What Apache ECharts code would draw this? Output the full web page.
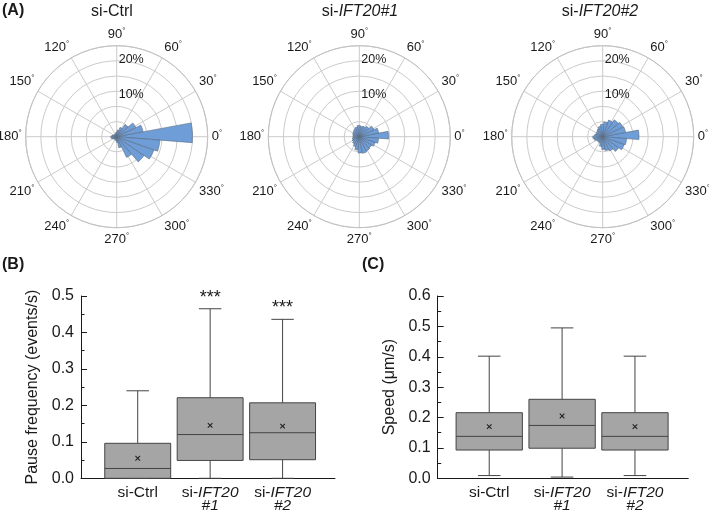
<!DOCTYPE html>
<html><head><meta charset="utf-8">
<script src="https://cdn.jsdelivr.net/npm/echarts@6/dist/echarts.min.js"></script>
<style>html,body{margin:0;padding:0;background:#fff}#c{width:709px;height:519px}</style>
</head><body><div id="c"></div>
<script>
// ---------- Data ----------
// Rose histogram bins (15° wide), bin centre angles in degrees
const roseBinCenters = ['3','18','33','48','63','78','93','108','123','138','153','168','183','198','213','228','243','258','273','288','303','318','333','348'];
// Percentage of tracks in each bin
const roseCtrl = [21.5, 7.6, 6.0, 4.2, 2.8, 1.9, 1.3, 1.0, 0.8, 0.8, 1.0, 1.4, 1.7, 1.5, 1.1, 0.9, 0.9, 1.1, 1.6, 3.2, 6.5, 9.4, 11.2, 12.3];
const roseIFT1 = [8.3, 5.6, 4.6, 3.6, 3.1, 3.0, 3.2, 2.8, 2.5, 2.2, 2.0, 1.8, 1.8, 2.0, 2.2, 2.5, 3.0, 3.8, 4.6, 4.8, 4.5, 4.2, 4.8, 5.5];
const roseIFT2 = [10.3, 6.6, 6.3, 5.8, 5.0, 4.2, 3.5, 3.0, 2.5, 2.2, 2.0, 2.3, 2.8, 2.5, 2.0, 1.8, 2.0, 2.8, 3.6, 4.0, 4.5, 5.5, 6.5, 6.8];
const roseTitles = ['si-Ctrl', 'si-{i|IFT20#1}', 'si-{i|IFT20#2}'];
const radiusTickLabels = [10, 20];          // labelled radius ticks (%)

// Box plots
const boxCategories = ['si-Ctrl', 'si-IFT20\n#1', 'si-IFT20\n#2'];
const pauseMin    = [0.000, 0.000, 0.000];
const pauseQ1     = [0.000, 0.049, 0.051];
const pauseMedian = [0.027, 0.120, 0.125];
const pauseQ3     = [0.096, 0.221, 0.207];
const pauseMax    = [0.240, 0.465, 0.436];
const pauseMean   = [0.055, 0.145, 0.143];
const pauseSig    = ['', '***', '***'];

const speedMin    = [0.009, 0.004, 0.009];
const speedQ1     = [0.093, 0.099, 0.093];
const speedMedian = [0.138, 0.174, 0.138];
const speedQ3     = [0.216, 0.260, 0.216];
const speedMax    = [0.402, 0.495, 0.402];
const speedMean   = [0.170, 0.205, 0.170];
const speedSig    = ['', '', ''];

// ---------- Chart ----------
const FONT = '"Liberation Sans", Arial, Helvetica, sans-serif';
const TXT = '#1a1a1a';
const chart = echarts.init(document.getElementById('c'), null, {renderer: 'canvas'});

const roseCenters = [[116.7, 136.7], [359.3, 136.7], [602.7, 136.7]];
const roseTitleX = [112, 360, 600];
const roseData = [roseCtrl, roseIFT1, roseIFT2];
const R = 91, RMAX = 25.8;

const polar = [], angleAxis = [], radiusAxis = [], series = [], graphic = [];

roseCenters.forEach((c, i) => {
  const g = i * 3;
  for (let k = 0; k < 3; k++) polar.push({center: c, radius: R});
  // grid polar
  angleAxis.push({
    polarIndex: g, type: 'value', min: 0, max: 360, interval: 30, startAngle: 0, clockwise: false,
    axisLine: {lineStyle: {color: '#c2c2c2', width: 1}},
    axisTick: {show: false},
    splitLine: {lineStyle: {color: '#cbcbcb', width: 1}},
    axisLabel: {
      margin: 4, color: TXT, fontFamily: FONT, fontSize: 13,
      formatter: v => v === 360 ? '' : '{n|' + v + '}{d|°}',
      rich: {n: {fontSize: 13, fontFamily: FONT, color: TXT}, d: {fontSize: 8, fontFamily: FONT, color: TXT, verticalAlign: 'top', padding: [0, 0, 7, 0]}}
    }
  });
  radiusAxis.push({
    polarIndex: g, type: 'value', min: 0, max: RMAX, interval: RMAX / 6,
    axisLine: {show: false}, axisTick: {show: false}, axisLabel: {show: false},
    splitLine: {lineStyle: {color: '#cbcbcb', width: 1}}
  });
  // bar polar
  angleAxis.push({polarIndex: g + 1, type: 'category', data: roseBinCenters, startAngle: 355.5, clockwise: false, show: false});
  radiusAxis.push({polarIndex: g + 1, type: 'value', min: 0, max: RMAX, show: false});
  // label polar
  angleAxis.push({polarIndex: g + 2, type: 'value', min: 0, max: 360, startAngle: 90, show: false});
  radiusAxis.push({
    polarIndex: g + 2, type: 'value', min: 0, max: RMAX, interval: 10, z: 20,
    axisLine: {show: false}, axisTick: {show: false}, splitLine: {show: false},
    axisLabel: {
      color: TXT, fontFamily: FONT, fontSize: 12.5, margin: -2, align: 'left', verticalAlign: 'bottom',
      formatter: v => radiusTickLabels.indexOf(v) >= 0 ? v + '%' : ''
    }
  });
  series.push({
    type: 'bar', coordinateSystem: 'polar', polarIndex: g + 1, data: roseData[i],
    barCategoryGap: '0%', barGap: '0%', z: 5,
    itemStyle: {color: '#6e9dd7', borderColor: '#5b6b82', borderWidth: 0.6}
  });
  graphic.push({
    type: 'text', x: roseTitleX[i], y: 12, z: 50,
    style: {text: roseTitles[i], align: 'center', verticalAlign: 'middle', fill: TXT, font: '16px ' + FONT,
      rich: {i: {fontStyle: 'italic', fontSize: 16, fontFamily: FONT, fill: TXT}}}
  });
});

graphic.push({type: 'text', x: 2, y: 11, style: {text: '(A)', fill: TXT, font: 'bold 16px ' + FONT, verticalAlign: 'middle'}});
graphic.push({type: 'text', x: 2, y: 265, style: {text: '(B)', fill: TXT, font: 'bold 16px ' + FONT, verticalAlign: 'middle'}});
graphic.push({type: 'text', x: 362, y: 265, style: {text: '(C)', fill: TXT, font: 'bold 16px ' + FONT, verticalAlign: 'middle'}});

// Box plot grids
const grid = [
  {left: 101.5, right: 709 - 318.8, top: 296, bottom: 519 - 478.3},   // B boxes
  {left: 81, right: 709 - 335, top: 296, bottom: 519 - 478.3},        // B baseline
  {left: 452.8, right: 709 - 671.4, top: 296, bottom: 519 - 478.3},   // C boxes
  {left: 437.7, right: 709 - 688.3, top: 296, bottom: 519 - 478.3}    // C baseline
];

const catLabel = {
  interval: 0, margin: 8, color: TXT, fontFamily: FONT, fontSize: 15.5, lineHeight: 13,
  formatter: v => v.replace('IFT20\n#1', '{i|IFT20}\n{i|#1}').replace('IFT20\n#2', '{i|IFT20}\n{i|#2}'),
  rich: {i: {fontStyle: 'italic', fontSize: 15.5, fontFamily: FONT, color: TXT, lineHeight: 13}}
};
const xAxis = [
  {gridIndex: 0, type: 'category', data: boxCategories, axisLine: {show: false}, axisTick: {show: false}, axisLabel: catLabel},
  {gridIndex: 1, type: 'value', min: 0, max: 1, axisLine: {show: true, onZero: false, lineStyle: {color: TXT, width: 1}}, axisTick: {show: false}, axisLabel: {show: false}, splitLine: {show: false}},
  {gridIndex: 2, type: 'category', data: boxCategories, axisLine: {show: false}, axisTick: {show: false}, axisLabel: catLabel},
  {gridIndex: 3, type: 'value', min: 0, max: 1, axisLine: {show: true, onZero: false, lineStyle: {color: TXT, width: 1}}, axisTick: {show: false}, axisLabel: {show: false}, splitLine: {show: false}}
];
function valAxis(gi, max, offset, name, nameGap) {
  return {
    gridIndex: gi, type: 'value', min: 0, max: max, interval: 0.1, offset: offset,
    axisLine: {show: true, lineStyle: {color: TXT, width: 1}},
    axisTick: {show: true, inside: true, length: 6, lineStyle: {color: TXT}},
    minorTick: {show: true, splitNumber: 2, length: 3.5, lineStyle: {color: TXT}},
    splitLine: {show: false},
    axisLabel: {formatter: v => v.toFixed(1), color: TXT, fontFamily: FONT, fontSize: 16, margin: 7},
    name: name, nameLocation: 'middle', nameGap: nameGap,
    nameTextStyle: {color: TXT, fontFamily: FONT, fontSize: 16}
  };
}
const yAxis = [
  valAxis(0, 0.5, 20.5, 'Pause frequency (events/s)', 40),
  {gridIndex: 1, type: 'value', min: 0, max: 1, show: false},
  valAxis(2, 0.6, 15.1, 'Speed (μm/s)', 40),
  {gridIndex: 3, type: 'value', min: 0, max: 1, show: false}
];

function renderBox(params, api) {
  const c = api.value(0);
  const mn = api.value(1), q1 = api.value(2), md = api.value(3), q3 = api.value(4), mx = api.value(5), me = api.value(6);
  const sig = api.value(7);
  const band = api.size([1, 0])[0];
  const bw = band * 0.91, cw = band * 0.31;
  const p = v => api.coord([c, v]);
  const x = p(q1)[0];
  const ln = (x1, y1, x2, y2) => ({type: 'line', shape: {x1, y1, x2, y2}, style: {stroke: '#444', lineWidth: 1}});
  const yq1 = p(q1)[1], yq3 = p(q3)[1], ymd = p(md)[1], ymn = p(mn)[1], ymx = p(mx)[1], yme = p(me)[1];
  const ch = [
    ln(x, ymx, x, yq3), ln(x, yq1, x, ymn),
    ln(x - cw / 2, ymx, x + cw / 2, ymx), ln(x - cw / 2, ymn, x + cw / 2, ymn),
    {type: 'rect', shape: {x: x - bw / 2, y: yq3, width: bw, height: yq1 - yq3}, style: {fill: '#a5a5a5', stroke: '#444', lineWidth: 1}},
    ln(x - bw / 2, ymd, x + bw / 2, ymd),
    {type: 'line', shape: {x1: x - 2.3, y1: yme - 2.3, x2: x + 2.3, y2: yme + 2.3}, style: {stroke: '#222', lineWidth: 1.1}},
    {type: 'line', shape: {x1: x - 2.3, y1: yme + 2.3, x2: x + 2.3, y2: yme - 2.3}, style: {stroke: '#222', lineWidth: 1.1}}
  ];
  if (sig) ch.push({type: 'text', x: x, y: ymx - 2, style: {text: sig, align: 'center', verticalAlign: 'bottom', fill: TXT, font: '18px ' + FONT}});
  return {type: 'group', children: ch};
}
function boxRows(mn, q1, md, q3, mx, me, sig) {
  return mn.map((v, i) => [i, mn[i], q1[i], md[i], q3[i], mx[i], me[i], sig[i]]);
}
series.push({
  type: 'custom', xAxisIndex: 0, yAxisIndex: 0, renderItem: renderBox, z: 5,
  encode: {x: 0, y: [1, 2, 3, 4, 5]},
  data: boxRows(pauseMin, pauseQ1, pauseMedian, pauseQ3, pauseMax, pauseMean, pauseSig)
});
series.push({
  type: 'custom', xAxisIndex: 2, yAxisIndex: 2, renderItem: renderBox, z: 5,
  encode: {x: 0, y: [1, 2, 3, 4, 5]},
  data: boxRows(speedMin, speedQ1, speedMedian, speedQ3, speedMax, speedMean, speedSig)
});

chart.setOption({
  animation: false,
  backgroundColor: '#fff',
  textStyle: {fontFamily: FONT},
  polar, angleAxis, radiusAxis, grid, xAxis, yAxis, series, graphic
});
</script></body></html>
